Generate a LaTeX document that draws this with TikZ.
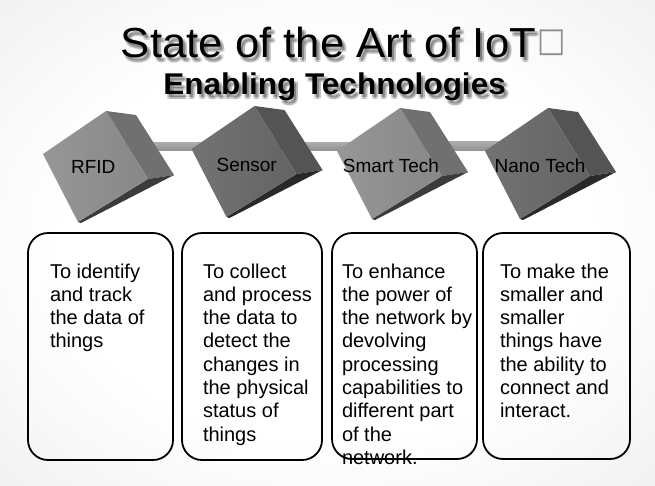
\documentclass[tikz,border=0pt]{standalone}
\usepackage{fontspec}
\setmainfont{Liberation Sans}
\newfontfamily\dejavu{DejaVu Sans}
\usetikzlibrary{calc}
\pgfdeclareradialshading{bgshade}{\pgfpoint{0bp}{0bp}}{color(0bp)=(white); color(20bp)=(white); color(72bp)=(black!17)}
\tikzset{
  every node/.style={inner sep=0pt, outer sep=0pt},
  titlea/.style={font=\fontsize{42}{48}\selectfont, xscale=1.04, anchor=base},
  titleb/.style={font=\bfseries\fontsize{30}{36}\selectfont, xscale=1.05, anchor=base},
  shadowcopy/.style={text=black, opacity=0.15},
  cubelabel/.style={font=\fontsize{19}{22}\selectfont, anchor=base},
  desctext/.style={font=\fontsize{20}{23.3}\selectfont, align=left, anchor=north west},
  descbox/.style={draw=black, line width=1.8pt, rounded corners=20pt, anchor=north west},
  rod/.style={top color=black!32, middle color=white, bottom color=black!42},
}
% name, center, front-left level, front-right level, right face level, bottom level
\newcommand\makecube[6]{%
  \coordinate (#1) at #2;
  \fill[black!#5] ($(#1)+(12,-56)$) -- ($(#1)+(42,-52)$) -- ($(#1)+(80,8)$) -- ($(#1)+(54,12)$) -- cycle;
  \fill[black!#6] ($(#1)+(-16,55)$) -- ($(#1)+(54,12)$) -- ($(#1)+(80,8)$) -- ($(#1)+(-13,56)$) -- cycle;
  \shade[left color=black!#3, right color=black!#4] ($(#1)+(-51,-13)$) -- ($(#1)+(12,-56)$) -- ($(#1)+(54,12)$) -- ($(#1)+(-16,55)$) -- cycle;
}
\begin{document}
\begin{tikzpicture}[x=1pt,y=-1pt]
\useasboundingbox (0,0) rectangle (655,485);
\shade[shading=bgshade] (0,0) rectangle (655,485);

% cube centres
\coordinate (rfid) at (94,167);
\coordinate (sensor) at (242.5,162);
\coordinate (smart) at (388,164);
\coordinate (nano) at (536,164);

% rods
\shade[rod] ($(rfid)+(30,-25)$) rectangle ($(sensor)+(0,-12)$);
\shade[rod] ($(sensor)+(30,-20)$) rectangle ($(smart)+(0,-14)$);
\shade[rod] ($(smart)+(30,-23)$) rectangle ($(nano)+(0,-14)$);

% cubes
\makecube{rfid}{(94,167)}{41}{47}{56}{77}
\makecube{sensor}{(242.5,162)}{55}{61}{67}{84}
\makecube{smart}{(388,164)}{41}{47}{56}{77}
\makecube{nano}{(536,164)}{55}{61}{67}{84}

\node[cubelabel] (lrfid) at (93.3,173) {RFID};
\node[cubelabel] (lsensor) at (246.7,171) {Sensor};
\node[cubelabel] (lsmart) at (391,172) {Smart Tech};
\node[cubelabel] (lnano) at (540,172) {Nano Tech};

% title shadows
\foreach \dx/\dy in {2/3,4/3,2/5,4/5} {
  \node[titlea, shadowcopy] (sa-\dx-\dy) at (328.5+\dx,57+\dy) {State of the Art of IoT};
  \node[titleb, shadowcopy] (sb-\dx-\dy) at (334.5+\dx,94+\dy) {Enabling Technologies};
}
\node[titlea] (title) at (328.5,57) {State of the Art of IoT};
\node[titleb] (subtitle) at (334.5,94) {Enabling Technologies};
\node[font=\dejavu\fontsize{30}{36}\selectfont, text=black!45, yscale=1.12] (tofu) at (552,42.5) {□};

% description texts
\node[desctext] (d1) at (50,261.7) {\strut To identify\\and track\\the data of\\things};
\node[desctext] (d2) at (203,261.7) {\strut To collect\\and process\\the data to\\detect the\\changes in\\the physical\\status of\\things};
\node[desctext] (d3) at (342,261.7) {\strut To enhance\\the power of\\the network by\\devolving\\processing\\capabilities to\\different part\\of the\\network.};
\node[desctext] (d4) at (500,261.7) {\strut To make the\\smaller and\\smaller\\things have\\the ability to\\connect and\\interact.};

% boxes
\node[descbox, minimum width=145pt, minimum height=227pt] (box1) at (28,233) {};
\node[descbox, minimum width=140pt, minimum height=227pt] (box2) at (182,233) {};
\node[descbox, minimum width=145pt, minimum height=226pt] (box3) at (332,233) {};
\node[descbox, minimum width=147pt, minimum height=226pt] (box4) at (483,233) {};
\end{tikzpicture}
\end{document}
